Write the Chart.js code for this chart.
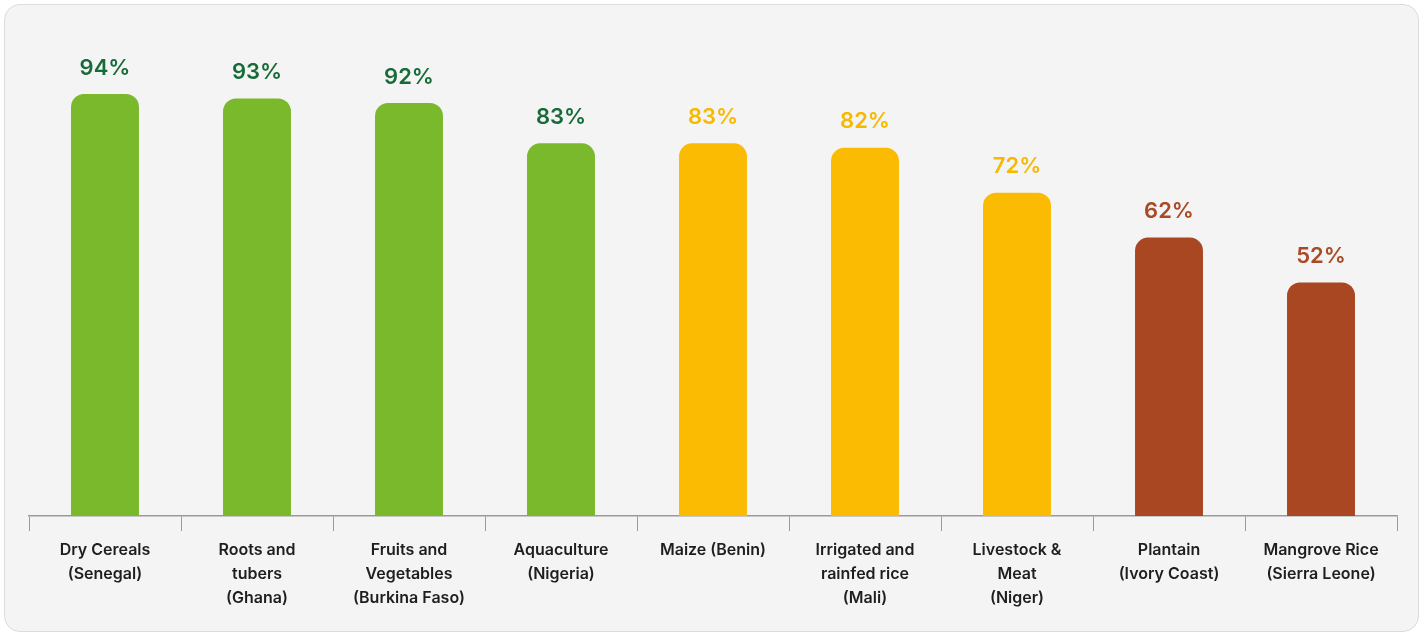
<!DOCTYPE html>
<html lang="en">
  <head>
    <meta charset="UTF-8" />
    <title>Value chain scores</title>
    <script src="https://cdn.jsdelivr.net/npm/chart.js@4.4.1/dist/chart.umd.min.js"></script>
    <style>
      html, body {
        margin: 0;
        padding: 0;
        background: #ffffff;
        width: 1428px;
        height: 634px;
        overflow: hidden;
      }
      .panel {
        position: absolute;
        left: 4px;
        top: 4px;
        width: 1413px;
        height: 626px;
        background: #f4f4f4;
        border: 1px solid #dcdcdc;
        border-radius: 16px;
      }
      .chart-container {
        position: absolute;
        left: 0;
        top: 0;
        width: 1428px;
        height: 634px;
      }
    </style>
  </head>
  <body>
    <div class="panel"></div>
    <div class="chart-container">
      <canvas id="myChart"></canvas>
    </div>

    <script>
      // data
      const categories = [
        ["Dry Cereals", "(Senegal)"],
        ["Roots and", "tubers", "(Ghana)"],
        ["Fruits and", "Vegetables", "(Burkina Faso)"],
        ["Aquaculture", "(Nigeria)"],
        ["Maize (Benin)"],
        ["Irrigated and", "rainfed rice", "(Mali)"],
        ["Livestock &", "Meat", "(Niger)"],
        ["Plantain", "(Ivory Coast)"],
        ["Mangrove Rice", "(Sierra Leone)"],
      ];
      const scores = [94, 93, 92, 83, 83, 82, 72, 62, 52];
      const tiers = ["high", "high", "high", "high", "mid", "mid", "mid", "low", "low"];

      // styles
      const barColor = { high: "#7ab82c", mid: "#fbbb02", low: "#a94722" };
      const labelColor = { high: "#176b38", mid: "#f6b800", low: "#a94a24" };
      const FONT = "Inter, 'Open Sans', sans-serif";

      const valueLabels = {
        id: "valueLabels",
        afterDatasetsDraw(chart) {
          const { ctx } = chart;
          const y = chart.scales.y;
          const meta = chart.getDatasetMeta(0);
          ctx.save();
          ctx.font = "600 22px " + FONT;
          ctx.textAlign = "center";
          ctx.textBaseline = "middle";
          meta.data.forEach((bar, i) => {
            ctx.fillStyle = labelColor[tiers[i]];
            ctx.fillText(scores[i] + "%", bar.x, y.getPixelForValue(scores[i]) - 26);
          });
          ctx.restore();
        },
      };

      const ctx = document.getElementById("myChart").getContext("2d");
      const myChart = new Chart(ctx, {
        type: "bar",
        data: {
          labels: categories,
          datasets: [
            {
              data: scores,
              backgroundColor: tiers.map((t) => barColor[t]),
              borderRadius: { topLeft: 13, topRight: 13 },
              borderSkipped: "start",
              categoryPercentage: 1,
              barPercentage: 0.447,
            },
          ],
        },
        options: {
          responsive: true,
          maintainAspectRatio: false,
          animation: false,
          devicePixelRatio: 1,
          layout: {
            padding: { left: 29, right: 31, top: 67, bottom: 17 },
          },
          scales: {
            y: {
              display: false,
              min: 0,
              max: 100,
            },
            x: {
              grid: {
                offset: true,
                drawOnChartArea: false,
                drawTicks: true,
                tickLength: 15,
                color: "#9a9a9a",
                lineWidth: 1,
              },
              border: {
                display: true,
                color: "#9a9a9a",
                width: 1.5,
              },
              ticks: {
                color: "#1e1e1e",
                padding: 7,
                maxRotation: 0,
                autoSkip: false,
                font: { family: FONT, size: 16, weight: "600", lineHeight: 1.5 },
              },
            },
          },
          plugins: {
            legend: { display: false },
            tooltip: { enabled: false },
          },
        },
        plugins: [valueLabels],
      });
    </script>
  </body>
</html>
